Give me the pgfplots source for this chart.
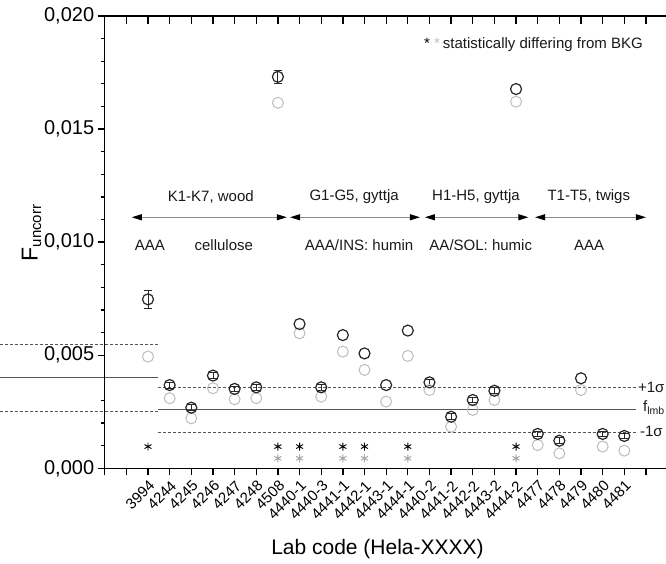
\documentclass[border=0pt]{standalone}
\usepackage{pgfplots}
\pgfplotsset{compat=1.18}
\usepackage{pgfplotstable}
\usepackage{fontspec}
\setmainfont{Liberation Sans}
\usetikzlibrary{arrows.meta}

\definecolor{lgray}{HTML}{BDBDBD}
\definecolor{dgray}{HTML}{262626}
\definecolor{lineg}{HTML}{555555}
\definecolor{arrg}{HTML}{8C8C8C}

\pgfplotstableread{
idx val
1 0.00494
2 0.00310
3 0.00221
4 0.00354
5 0.00305
6 0.00310
7 0.01616
8 0.00597
9 0.00317
10 0.00516
11 0.00435
12 0.00295
13 0.00497
14 0.00346
15 0.00184
16 0.00258
17 0.00302
18 0.01621
19 0.00103
20 0.00066
21 0.00346
22 0.00096
23 0.00078
}\grayT

\pgfplotstableread{
idx val err
1 0.00747 0.00038
2 0.00368 0.00013
3 0.00268 0.00013
4 0.00410 0.00013
5 0.00351 0.00013
6 0.00358 0.00013
7 0.01731 0.00030
9 0.00358 0.00013
14 0.00380 0.00013
15 0.00228 0.00013
16 0.00302 0.00013
17 0.00343 0.00013
19 0.00152 0.00013
20 0.00122 0.00013
22 0.00152 0.00013
23 0.00143 0.00013
}\blackE

\pgfplotstableread{
idx val
8 0.00638
10 0.00589
11 0.00508
12 0.00368
13 0.00609
18 0.01677
21 0.00398
}\blackN

\pgfplotstableread{
idx val
1 0.00096
7 0.00096
8 0.00096
10 0.00096
11 0.00096
13 0.00096
18 0.00096
}\starB

\pgfplotstableread{
idx val
7 0.00044
8 0.00044
10 0.00044
11 0.00044
13 0.00044
18 0.00044
}\starG

\begin{document}
\begin{tikzpicture}
\pgfplotsset{
  common/.style={
    scale only axis, width=562.9pt, height=452.3pt,
    xmin=-1, xmax=25, ymin=0, ymax=0.02,
    axis line style={line width=1.3pt},
    every tick/.style={line width=1.3pt, black},
    xtick={-1,...,24},
    clip=false,
  }
}
\begin{axis}[common,
  xtick pos=left, ytick pos=left,
  tick align=outside,
  major tick length=7pt, minor tick length=4pt,
  xticklabels={{},{},3994,4244,4245,4246,4247,4248,4508,4440-1,4440-3,4441-1,4442-1,4443-1,4444-1,4440-2,4441-2,4442-2,4443-2,4444-2,4477,4478,4479,4480,4481,{}},
  xticklabel style={xshift=4pt, yshift=-8pt, rotate=45, anchor=east, inner sep=0pt, font=\fontsize{15}{15}\selectfont},
  ytick={0,0.005,0.01,0.015,0.02},
  minor y tick num=4,
  scaled y ticks=false,
  /pgf/number format/assume math mode=true,
  yticklabel style={font=\fontsize{20}{20}\selectfont,
    /pgf/number format/fixed, /pgf/number format/fixed zerofill,
    /pgf/number format/precision=3, /pgf/number format/use comma},
  xlabel={Lab code (Hela-XXXX)},
  xlabel style={at={(axis description cs:0.4846,-0.1784)}, anchor=center, font=\fontsize{21}{21}\selectfont},
  ylabel={F\raisebox{-0.15em}{\fontsize{15}{15}\selectfont uncorr}},
  ylabel style={at={(axis description cs:-0.130,0.52)}, anchor=center, font=\fontsize{23}{23}\selectfont},
]
% reference lines
\addplot[lineg, line width=0.8pt, dash pattern=on 3pt off 2pt] coordinates {(-5.84,0.0055) (1.46,0.0055)};
\addplot[lineg, line width=0.8pt] coordinates {(-5.84,0.0040) (1.46,0.0040)};
\addplot[lineg, line width=0.8pt, dash pattern=on 3pt off 2pt] coordinates {(-5.84,0.0025) (1.46,0.0025)};
\addplot[lineg, line width=0.8pt, dash pattern=on 3pt off 2pt] coordinates {(1.46,0.00358) (23.55,0.00358)};
\addplot[lineg, line width=0.8pt] coordinates {(1.46,0.00261) (23.55,0.00261)};
\addplot[lineg, line width=0.8pt, dash pattern=on 3pt off 2pt] coordinates {(1.46,0.00157) (23.55,0.00157)};

% gray circles
\addplot[only marks, mark=o, mark size=5.5pt, color=lgray, mark options={line width=1pt}] table[x=idx, y=val] {\grayT};
% black circles with error bars
\addplot[only marks, mark=o, mark size=5.5pt, color=dgray, mark options={line width=1.2pt},
  error bars/.cd, y dir=both, y explicit,
  error bar style={line width=0.9pt, dgray},
  error mark options={rotate=90, mark size=4pt, line width=0.9pt, dgray}]
  table[x=idx, y=val, y error=err] {\blackE};
\addplot[only marks, mark=o, mark size=5.5pt, color=dgray, mark options={line width=1.2pt}] table[x=idx, y=val] {\blackN};

% asterisks
\addplot[only marks, mark=asterisk, mark size=4pt, color=black, mark options={line width=0.9pt}] table[x=idx, y=val] {\starB};
\addplot[only marks, mark=asterisk, mark size=4pt, color=lgray!85!black, mark options={line width=0.9pt}] table[x=idx, y=val] {\starG};

% arrows
\tikzset{garrow/.style={arrg, line width=1pt, {Triangle[length=10pt,width=6pt,black]}-{Triangle[length=10pt,width=6pt,black]}}}
\draw[garrow] (axis cs:0.25,0.0111) -- (axis cs:7.41,0.0111);
\draw[garrow] (axis cs:7.56,0.0111) -- (axis cs:13.56,0.0111);
\draw[garrow] (axis cs:13.79,0.0111) -- (axis cs:18.57,0.0111);
\draw[garrow] (axis cs:18.88,0.0111) -- (axis cs:24.0,0.0111);

\tikzset{ann/.style={font=\fontsize{15}{15}\selectfont, text=black!90, inner sep=0pt}}
\node[ann] at (axis cs:3.90,0.01201) {K1-K7, wood};
\node[ann] at (axis cs:10.52,0.01201) {G1-G5, gyttja};
\node[ann] at (axis cs:16.15,0.01201) {H1-H5, gyttja};
\node[ann] at (axis cs:21.36,0.01201) {T1-T5, twigs};
\node[ann] at (axis cs:1.09,0.00987) {AAA};
\node[ann] at (axis cs:4.50,0.00987) {cellulose};
\node[ann] at (axis cs:10.75,0.00987) {AAA/INS: humin};
\node[ann] at (axis cs:16.37,0.00987) {AA/SOL: humic};
\node[ann] at (axis cs:21.38,0.00987) {AAA};

\node[ann, anchor=west] at (axis cs:13.75,0.01872) {{\color{black}*}\hspace{4pt}{\color{lgray}*}\hspace{3pt}statistically differing from BKG};

\node[ann, anchor=base west] at (axis cs:23.63,0.00333) {+1σ};
\node[ann, anchor=base west] at (axis cs:23.86,0.00249) {f\textsubscript{lmb}};
\node[ann, anchor=base west] at (axis cs:23.72,0.00139) {-1σ};
\end{axis}

\begin{axis}[common,
  xtick pos=right, tick align=inside,
  major tick length=8pt,
  xticklabels={}, ytick=\empty,
]
\end{axis}

\pgfresetboundingbox
\path[use as bounding box] (-104.7pt,-95.7pt) rectangle (561.3pt,468.3pt);
\end{tikzpicture}
\end{document}
